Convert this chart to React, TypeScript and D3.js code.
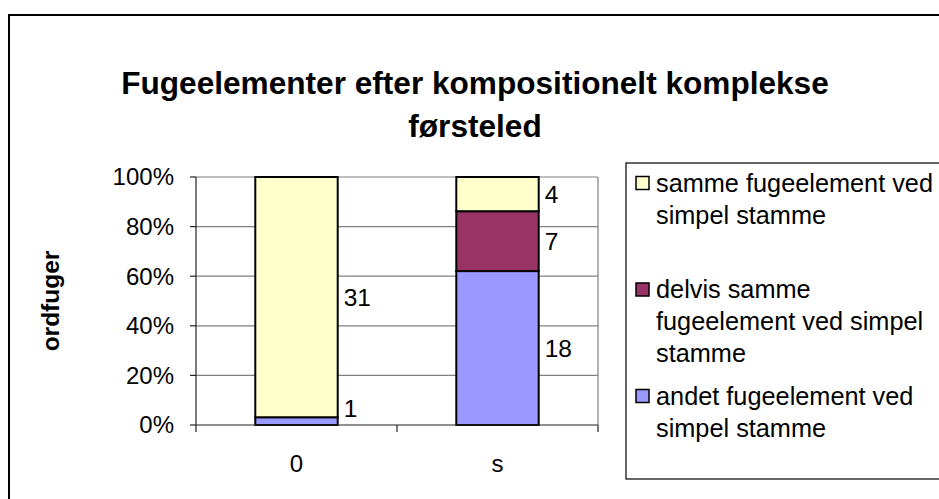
import React from "react";
import * as d3 from "d3";

const categories = ["0", "s"];
const seriesKeys = ["andet", "delvis", "samme"];
const andetValues = [1, 18];
const delvisValues = [0, 7];
const sammeValues = [31, 4];
const seriesColors = ["#9999FF", "#993366", "#FFFFCC"];
const legendLines = [
  ["samme fugeelement ved", "simpel stamme"],
  ["delvis samme", "fugeelement ved simpel", "stamme"],
  ["andet fugeelement ved", "simpel stamme"],
];
const legendOrder = [2, 1, 0];
const yTicks = [0, 0.2, 0.4, 0.6, 0.8, 1];
const titleLines = ["Fugeelementer efter kompositionelt komplekse", "førsteled"];
const yAxisTitle = "ordfuger";

const FONT = "'Liberation Sans', Arial, sans-serif";

export default function App() {
  const W = 939, H = 499;
  const left = 196, right = 598, top = 177, bottom = 425;

  const rows = categories.map((c, i) => ({
    cat: c,
    andet: andetValues[i],
    delvis: delvisValues[i],
    samme: sammeValues[i],
  }));
  const stacked = d3.stack<any>().keys(seriesKeys).offset(d3.stackOffsetExpand)(rows);

  const x = d3.scaleBand().domain(categories).range([left, right]).paddingInner(0.59).paddingOuter(0.295);
  const xOuter = d3.scaleBand().domain(categories).range([left, right]);
  const y = d3.scaleLinear().domain([0, 1]).range([bottom, top]);
  const fmt = d3.format(".0%");

  const xTickPos = [left, ...categories.map((c) => (xOuter(c) as number) + xOuter.bandwidth())];

  return (
    <svg width={W} height={H} style={{ position: "absolute", left: 0, top: 0, background: "#fff" }}
      fontFamily={FONT}>
      <rect x={0} y={0} width={W} height={H} fill="#fff" />
      {/* outer frame */}
      <path d={`M9,${H + 5} L9,15 L${W + 5},15`} fill="none" stroke="#000" strokeWidth={2} />

      {/* title */}
      {titleLines.map((t, i) => (
        <text key={i} x={475} y={94 + i * 43} textAnchor="middle" fontWeight="bold" fontSize={31.6} fill="#000">
          {t}
        </text>
      ))}

      {/* gridlines */}
      {yTicks.filter((t) => t > 0).map((t) => (
        <line key={t} x1={left} x2={right} y1={y(t)} y2={y(t)} stroke="#808080" strokeWidth={1.2} />
      ))}
      <line x1={right} x2={right} y1={top} y2={bottom} stroke="#808080" strokeWidth={1.2} />

      {/* bars */}
      {stacked.map((s, si) =>
        s.map((d, ci) => {
          const v = (rows[ci] as any)[seriesKeys[si]];
          if (!v) return null;
          return (
            <rect key={`${si}-${ci}`} x={x(categories[ci])} width={x.bandwidth()}
              y={y(d[1])} height={y(d[0]) - y(d[1])}
              fill={seriesColors[si]} stroke="#000" strokeWidth={2} />
          );
        })
      )}

      {/* axes */}
      <line x1={left} x2={left} y1={top} y2={bottom} stroke="#222" strokeWidth={1.2} />
      <line x1={left} x2={right} y1={bottom} y2={bottom} stroke="#222" strokeWidth={1.2} />
      {yTicks.map((t) => (
        <g key={t}>
          <line x1={left - 6} x2={left} y1={y(t)} y2={y(t)} stroke="#222" strokeWidth={1.2} />
          <text x={174} y={y(t)} dy="0.35em" textAnchor="end" fontSize={24} fill="#000">{fmt(t)}</text>
        </g>
      ))}
      {xTickPos.map((p, i) => (
        <line key={i} x1={p} x2={p} y1={bottom} y2={bottom + 7} stroke="#222" strokeWidth={1.2} />
      ))}
      {categories.map((c) => (
        <text key={c} x={(xOuter(c) as number) + xOuter.bandwidth() / 2} y={464} dy="0.35em"
          textAnchor="middle" fontSize={24} fill="#000">{c}</text>
      ))}

      {/* data labels */}
      {stacked.map((s, si) =>
        s.map((d, ci) => {
          const v = (rows[ci] as any)[seriesKeys[si]];
          if (!v) return null;
          const cy = Math.min((y(d[0]) + y(d[1])) / 2, bottom - 17);
          return (
            <text key={`l${si}-${ci}`} x={(x(categories[ci]) as number) + x.bandwidth() + 6} y={cy} dy="0.35em"
              fontSize={24.5} fill="#000">{v}</text>
          );
        })
      )}

      {/* y axis title */}
      <text transform={`translate(59,301) rotate(-90)`} textAnchor="middle" fontWeight="bold" fontSize={24.5} fill="#000">
        {yAxisTitle}
      </text>

      {/* legend */}
      <rect x={626} y={163} width={W} height={316} fill="#fff" stroke="#000" strokeWidth={1.2} />
      {legendOrder.map((si, li) => {
        const y0 = 183 + li * 106.5;
        return (
          <g key={si}>
            <rect x={636} y={y0 - 6.5} width={13} height={13} fill={seriesColors[si]} stroke="#000" strokeWidth={1.5} />
            {legendLines[li].map((ln, k) => (
              <text key={k} x={656} y={y0 + k * 32} dy="0.35em" fontSize={25.3} fill="#000">{ln}</text>
            ))}
          </g>
        );
      })}
    </svg>
  );
}
